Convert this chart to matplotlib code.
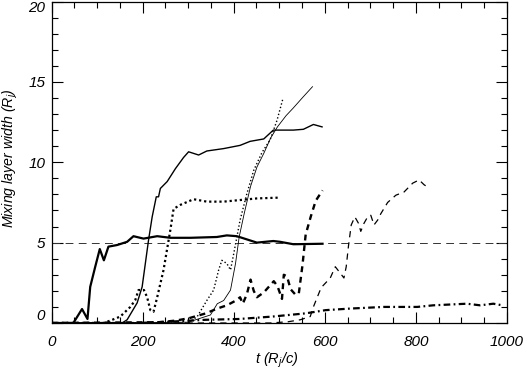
import matplotlib
matplotlib.use("Agg")
import matplotlib.pyplot as plt
from matplotlib.ticker import MultipleLocator

plt.rcParams['font.family'] = ['Liberation Sans', 'DejaVu Sans']
plt.rcParams['mathtext.fontset'] = 'custom'
plt.rcParams['mathtext.it'] = 'Liberation Sans:italic'
plt.rcParams['mathtext.rm'] = 'Liberation Sans:italic'

# thick solid
t_a = [0, 48, 67, 79, 85, 96, 106, 115, 125, 144, 166, 180, 202, 232, 261, 305, 363, 385, 407, 451, 487, 502, 531, 595]
v_a = [0, 0, 0.87, 0.25, 2.25, 3.5, 4.6, 3.9, 4.75, 4.85, 5.05, 5.4, 5.25, 5.4, 5.3, 5.3, 5.35, 5.45, 5.4, 5.0, 5.1, 5.05, 4.9, 4.93]
# medium solid
t_b = [0, 155, 166, 188, 199, 206, 213, 221, 230, 235, 239, 254, 272, 290, 301, 312, 323, 341, 378, 414, 436, 466, 487, 531, 553, 575, 594]
v_b = [0, 0, 0.2, 1.25, 2.25, 3.7, 5.15, 6.6, 7.85, 7.85, 8.37, 8.8, 9.6, 10.3, 10.65, 10.55, 10.45, 10.7, 10.85, 11.05, 11.3, 11.45, 12.0, 12.0, 12.05, 12.35, 12.2]
# thick dotted
t_c = [0, 114, 129, 151, 173, 184, 191, 203, 210, 217, 224, 232, 246, 261, 268, 283, 312, 341, 378, 414, 451, 501]
v_c = [0, 0, 0.15, 0.4, 1.0, 1.43, 2.05, 2.05, 1.6, 0.8, 0.7, 1.6, 3.3, 5.8, 7.1, 7.35, 7.7, 7.55, 7.55, 7.65, 7.75, 7.8]
# thin dotted
t_d = [0, 300, 320, 341, 356, 367, 374, 385, 393, 400, 414, 429, 444, 462, 480, 495, 508]
v_d = [0, 0, 0.4, 1.4, 2.05, 3.3, 3.9, 3.7, 3.3, 4.3, 6.4, 8.05, 9.5, 10.6, 11.4, 12.6, 13.95]
# thin solid
t_e = [0, 300, 349, 364, 378, 393, 404, 412, 423, 437, 451, 466, 481, 496, 515, 530, 552, 573]
v_e = [0, 0.05, 0.5, 1.2, 1.4, 2.05, 3.7, 5.35, 6.8, 8.5, 9.7, 10.55, 11.5, 12.2, 12.9, 13.35, 14.05, 14.7]
# thick dashed
t_f = [0, 236, 273, 302, 339, 364, 385, 405, 414, 420, 429, 437, 444, 451, 466, 488, 496, 506, 510, 517, 525, 536, 543, 551, 558, 569, 580, 595]
v_f = [0, 0.05, 0.15, 0.3, 0.6, 0.9, 1.1, 1.4, 1.6, 1.2, 1.8, 2.7, 2.0, 1.6, 1.9, 2.6, 2.3, 1.5, 3.0, 2.9, 2.1, 1.75, 1.85, 3.6, 5.5, 6.6, 7.6, 8.25]
# thin dashed
t_g = [0, 480, 520, 546, 568, 575, 582, 592, 612, 623, 634, 642, 647, 652, 658, 666, 674, 679, 686, 694, 701, 708, 716, 723, 738, 756, 774, 793, 807, 818, 829]
v_g = [0, 0, 0.08, 0.2, 0.4, 1.0, 1.5, 2.2, 2.8, 3.5, 3.1, 2.8, 3.5, 4.8, 6.1, 6.6, 6.2, 5.7, 6.2, 6.6, 6.7, 6.1, 6.4, 6.8, 7.5, 7.95, 8.15, 8.7, 8.9, 8.6, 8.4]
# thick dash-dot
t_h = [0, 190, 258, 339, 412, 485, 558, 602, 657, 730, 803, 838, 875, 912, 941, 970, 990]
v_h = [0, 0, 0.08, 0.2, 0.25, 0.4, 0.6, 0.8, 0.9, 1.0, 1.0, 1.1, 1.15, 1.2, 1.1, 1.2, 1.1]

ref_level = 5
x_ticks = [0, 200, 400, 600, 800, 1000]
y_ticks = [0, 5, 10, 15, 20]

W, H = 524, 378
fig = plt.figure(figsize=(W / 100, H / 100), dpi=100)
ax = fig.add_axes([51.5 / W, 1 - 323 / H, 455.5 / W, 321.5 / H])

ax.axhline(ref_level, color='#333333', lw=0.7, ls=(0, (8, 5.5)))
ax.plot(t_h, v_h, color='black', lw=1.6, ls=(0, (3, 1.5, 0.8, 1.5)))
ax.plot(t_g, v_g, color='black', lw=0.9, ls=(0, (5, 4)))
ax.plot(t_f, v_f, color='black', lw=1.7, ls=(0, (2.5, 2)))
ax.plot(t_e, v_e, color='black', lw=0.6)
ax.plot(t_d, v_d, color='black', lw=1.0, ls=(0, (1, 1.6)))
ax.plot(t_c, v_c, color='black', lw=1.6, ls=(0, (1, 1.3)))
ax.plot(t_b, v_b, color='black', lw=1.0)
ax.plot(t_a, v_a, color='black', lw=1.6)

ax.set_xlim(0, 1000)
ax.set_ylim(0, 20)
ax.set_xticks(x_ticks)
ax.set_yticks(y_ticks)
ax.xaxis.set_minor_locator(MultipleLocator(50))
ax.yaxis.set_minor_locator(MultipleLocator(1))
ax.tick_params(which='both', direction='in', top=True, right=True, width=0.8)
ax.tick_params(which='major', length=8, labelsize=11)
ax.tick_params(axis='x', which='major', pad=9)
ax.tick_params(axis='y', which='major', pad=4.5)
ax.tick_params(which='minor', length=4)
ax.set_xticklabels([str(v) for v in x_ticks], fontstyle='italic')
ax.set_yticklabels([str(v) for v in y_ticks], fontstyle='italic')
ylabs = ax.get_yticklabels()
ylabs[0].set_verticalalignment('bottom')
ylabs[-1].set_verticalalignment('top')
for s in ax.spines.values():
    s.set_linewidth(0.9)

fig.text(277 / W, 1 - 360 / H, r'$t\ (R_j/c)$', fontsize=10.5, ha='center', va='center')
fig.text(10 / W, 1 - 158 / H, r'$Mixing\ layer\ width\ (R_j)$', fontsize=10.2,
         rotation=90, ha='center', va='center')

fig.savefig('out.png', dpi=100)
